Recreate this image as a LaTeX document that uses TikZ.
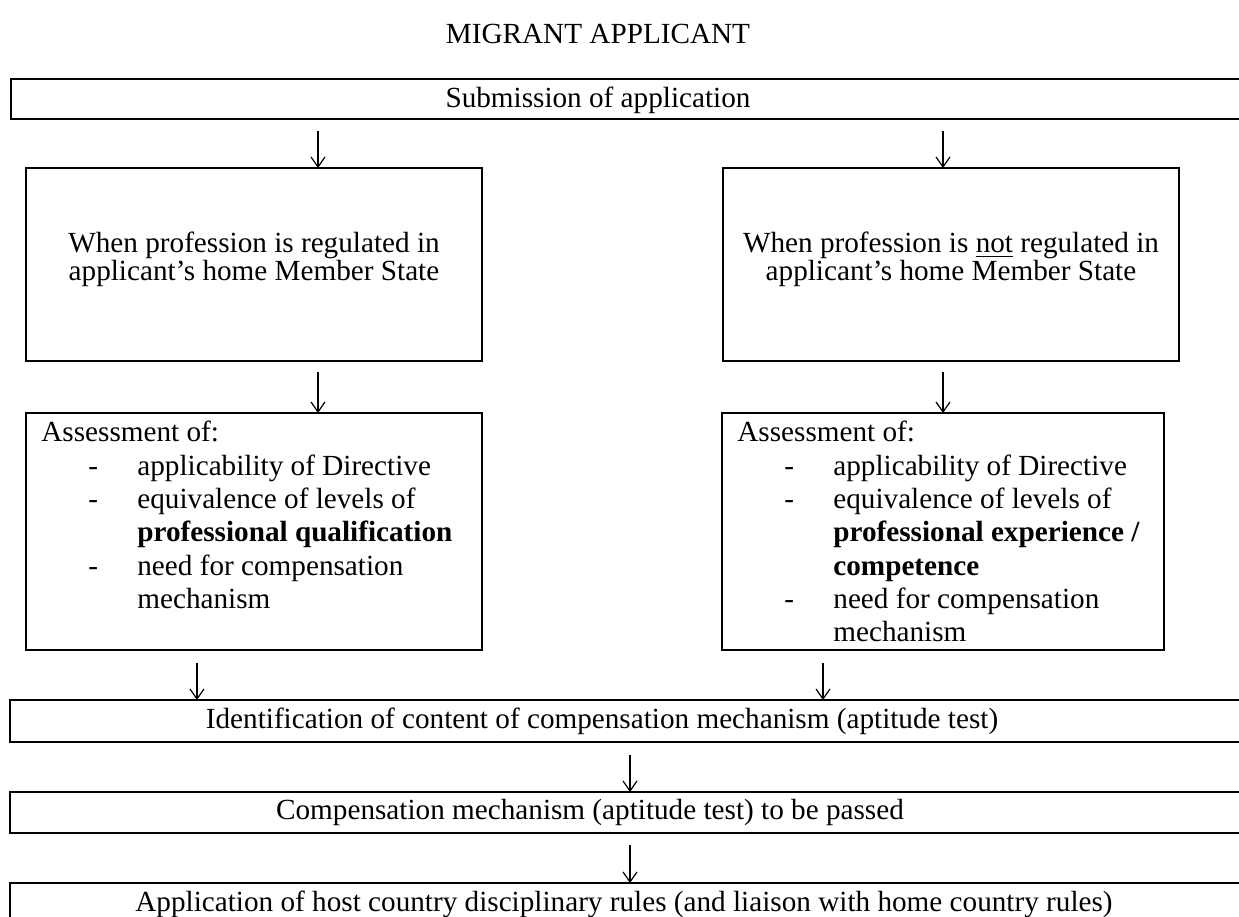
\documentclass[tikz,border=0pt]{standalone}
\usepackage{fontspec}
\setmainfont{Liberation Serif}
\usetikzlibrary{arrows.meta, positioning}

\newcommand{\dashitem}[1]{\hspace*{23.5pt}\makebox[24.5pt][l]{-}#1}
\newcommand{\contline}[1]{\hspace*{48pt}#1}

\begin{document}
\begin{tikzpicture}[x=0.5pt, y=-0.5pt,
    every node/.style={font=\fontsize{14.6}{14}\selectfont},
    frame/.style={draw, line width=1.1pt, inner sep=0pt, outer sep=0pt},
    flow/.style={-{Straight Barb[length=5pt, width=7pt]}, line width=0.6pt},
    assess/.style={anchor=north west, inner sep=0pt, align=left,
                   font=\fontsize{14.6}{16.65}\selectfont}
]
    \useasboundingbox (0,0) rectangle (1239,917);
    \clip (0,0) rectangle (1239,917);

    \node (title) at (598,34) {MIGRANT APPLICANT};

    \node[frame, minimum width=649pt, minimum height=20pt] (subbox) at (660,99) {};
    \node (sub) at (598,100) {Submission of application};

    % the two cases
    \node[frame, minimum width=228pt, minimum height=96.5pt] (regbox) at (254,264.5) {};
    \node[frame, minimum width=228pt, minimum height=96.5pt] (nregbox) at (951,264.5) {};
    \node[align=center, anchor=north, inner sep=0pt] (reg) at (254,232)
        {When profession is regulated in\\applicant’s home Member State};
    \node[align=center, anchor=north, inner sep=0pt] (nreg) at (951,232)
        {When profession is \underline{not} regulated in\\applicant’s home Member State};

    % assessments
    \node[frame, minimum width=228pt, minimum height=118.5pt] (asqbox) at (254,531.5) {};
    \node[frame, minimum width=221pt, minimum height=118.5pt] (asebox) at (943,531.5) {};
    \node[assess] (asq) at (41,421) {Assessment of:\\
        \dashitem{applicability of Directive}\\
        \dashitem{equivalence of levels of}\\
        \contline{\textbf{professional qualification}}\\
        \dashitem{need for compensation}\\
        \contline{mechanism}};
    \node[assess] (ase) at (737,421) {Assessment of:\\
        \dashitem{applicability of Directive}\\
        \dashitem{equivalence of levels of}\\
        \contline{\textbf{professional experience /}}\\
        \contline{\textbf{competence}}\\
        \dashitem{need for compensation}\\
        \contline{mechanism}};

    % common steps
    \node[frame, minimum width=650pt, minimum height=21pt] (identbox) at (660,721) {};
    \node (ident) at (602,721) {Identification of content of compensation mechanism (aptitude test)};
    \node[frame, minimum width=650pt, minimum height=20.5pt] (passbox) at (660,812.5) {};
    \node (pass) at (590,812) {Compensation mechanism (aptitude test) to be passed};
    \node[frame, minimum width=650pt, minimum height=30pt] (rulebox) at (660,913) {};
    \node (rules) at (624,904) {Application of host country disciplinary rules (and liaison with home country rules)};

    % arrows
    \coordinate (xl) at (318,0);
    \coordinate (xr) at (943,0);
    \coordinate (xql) at (197,0);
    \coordinate (xqr) at (823,0);
    \coordinate (xm) at (630,0);
    \draw[flow] ([yshift=-6pt]subbox.south -| xl) -- (regbox.north -| xl);
    \draw[flow] ([yshift=-6pt]subbox.south -| xr) -- (nregbox.north -| xr);
    \draw[flow] ([yshift=-5.5pt]regbox.south -| xl) -- (asqbox.north -| xl);
    \draw[flow] ([yshift=-5.5pt]nregbox.south -| xr) -- (asebox.north -| xr);
    \draw[flow] ([yshift=-6.5pt]asqbox.south -| xql) -- (identbox.north -| xql);
    \draw[flow] ([yshift=-6.5pt]asebox.south -| xqr) -- (identbox.north -| xqr);
    \draw[flow] ([yshift=-6.5pt]identbox.south -| xm) -- (passbox.north -| xm);
    \draw[flow] ([yshift=-6pt]passbox.south -| xm) -- (rulebox.north -| xm);
\end{tikzpicture}
\end{document}
